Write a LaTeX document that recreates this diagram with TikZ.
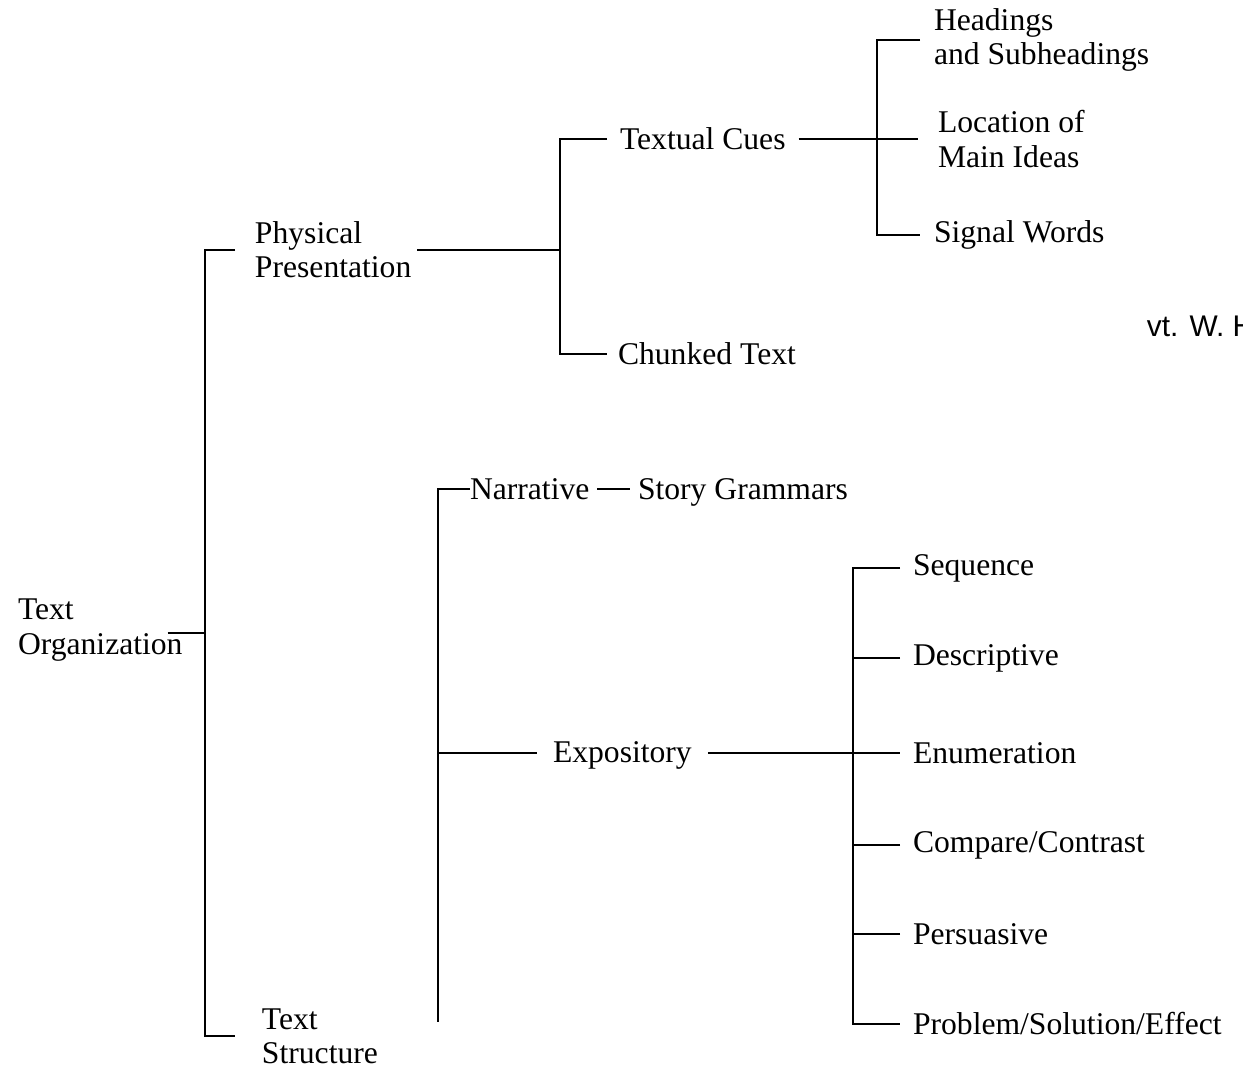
\documentclass[tikz,border=0pt]{standalone}
\usepackage{fontspec}
\setmainfont{Liberation Serif}
\newfontfamily\notefont{Liberation Sans}
\begin{document}
\begin{tikzpicture}[x=0.02cm, y=-0.02cm, line width=1.1pt,
  lbl/.style={anchor=west, align=left, inner sep=0pt, outer xsep=0.28cm,
    font=\fontsize{18}{19.5}\selectfont}]
\clip (0,0) rectangle (1243,1070);

\node[lbl, outer xsep=0pt] (org) at (18,630) {Text\\Organization};

\node[lbl, outer xsep=0.4cm] (phys) at (235,250) {Physical\\Presentation};
\node[lbl, outer xsep=0.54cm] (struct) at (235,1036) {Text\\Structure};

\node[lbl, outer xsep=0.26cm] (tcues) at (607,139) {Textual Cues};
\node[lbl, outer xsep=0.22cm] (chunk) at (607,354) {Chunked Text};

\node[lbl] (head) at (920,40) {Headings\\and Subheadings};
\node[lbl, outer xsep=0.4cm] (loc) at (918,139) {Location of\\Main Ideas};
\node[lbl] (signal) at (920,235) {Signal Words};

\node[lbl, outer xsep=0pt] (narr) at (470,489) {Narrative};
\node[lbl, outer xsep=0.16cm] (story) at (630,492) {Story Grammars};
\node[lbl, outer xsep=0.32cm] (expo) at (537,755) {Expository};

\node[lbl, outer xsep=0.26cm] (seq) at (900,568) {Sequence};
\node[lbl, outer xsep=0.26cm] (desc) at (900,658) {Descriptive};
\node[lbl, outer xsep=0.26cm] (enum) at (900,753) {Enumeration};
\node[lbl, outer xsep=0.26cm] (comp) at (900,845) {Compare/Contrast};
\node[lbl, outer xsep=0.26cm] (pers) at (900,934) {Persuasive};
\node[lbl, outer xsep=0.26cm] (prob) at (900,1024) {Problem/Solution/Effect};

\node[anchor=west, inner sep=0pt, font=\notefont\fontsize{17}{19}\selectfont] (note) at (1146,326) {vt. W. H};

\coordinate (j0) at (205,633);
\coordinate (j1) at (560,250);
\coordinate (j2) at (877,139);
\coordinate (j3) at (438,753);
\coordinate (j3end) at (438,1022);
\coordinate (j4) at (853,753);

\draw[shorten <=-0.3cm] (org.east |- j0) -- (j0);
\draw (phys.west) -| (j0) |- (struct.west);

\draw[shorten <=-0.28cm] (phys.east) -- (j1);
\draw (tcues.west) -| (j1) |- (chunk.west);

\draw (tcues.east) -- (loc.west);
\draw (head.west) -| (j2) |- (signal.west);

\draw (narr.west) -| (j3end);
\draw (j3) -- (expo.west |- j3);
\draw[shorten <=0.16cm] (narr.east) -- (story.west |- narr.east);

\draw (expo.east |- j4) -- (enum.west);
\draw (seq.west) -| (j4) |- (prob.west);
\foreach \n in {desc,comp,pers}
  \draw (\n.west) -- (\n.west -| j4);
\end{tikzpicture}
\end{document}
